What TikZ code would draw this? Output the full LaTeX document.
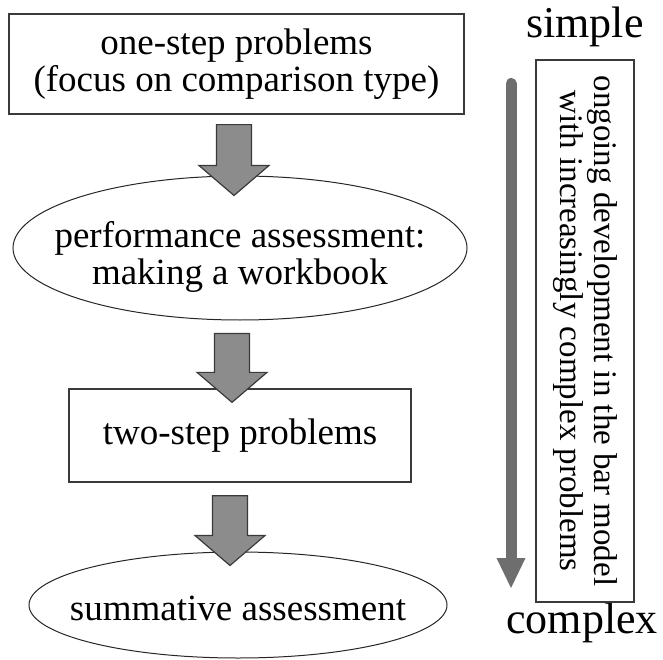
\documentclass[tikz,border=0pt]{standalone}
\usepackage{fontspec}
\setmainfont{Liberation Serif}
\usetikzlibrary{shapes.geometric,calc}
\definecolor{edgegray}{HTML}{3A3A3A}
\definecolor{blockfill}{HTML}{8C8C8C}
\definecolor{flowgray}{HTML}{6E6E6E}
\tikzset{
  stagebox/.style={draw=edgegray, line width=1.3pt, rectangle, inner sep=0pt,
    font=\fontsize{37}{37}\selectfont, align=center},
  stageoval/.style={draw=black!85, line width=1pt, ellipse, inner sep=0pt},
  maintext/.style={font=\fontsize{37}{37}\selectfont, align=center, inner sep=0pt},
  sidebox/.style={draw=edgegray, line width=1.3pt, rectangle, inner sep=0pt},
  sidetext/.style={font=\fontsize{33}{34}\selectfont, align=center, inner sep=0pt, rotate=-90},
  endtext/.style={font=\fontsize{44}{44}\selectfont, inner sep=0pt, anchor=base},
  blockarrow/.style={draw=edgegray, fill=blockfill, line width=1.2pt, line join=miter},
}
% thick grey block arrow from the top point #1 down to the tip #2
\newcommand\downblock[2]{%
  \path[blockarrow] let \p1=(#1), \p2=(#2) in
    (\x1-17.5pt,\y1) -- (\x1+17.5pt,\y1) -- (\x1+17.5pt,\y2+30pt) --
    (\x1+35pt,\y2+30pt) -- (\x1,\y2) -- (\x1-35pt,\y2+30pt) --
    (\x1-17.5pt,\y2+30pt) -- cycle;}
\begin{document}
\begin{tikzpicture}[x=1pt,y=-1pt]
  \useasboundingbox (0,0) rectangle (663,660);

  % sequence of stages
  \node[stagebox, minimum width=455pt, minimum height=100pt] (b1) at (236.5,64)
    {one-step problems\\(focus on comparison type)};
  \node[stageoval, minimum width=454pt, minimum height=144pt] (e1) at (240,248) {};
  \node[maintext] (e1text) at (240,257) {performance assessment:\\making a workbook};
  \node[stagebox, minimum width=342pt, minimum height=93pt] (b2) at (240,435.5)
    {two-step problems};
  \node[stageoval, minimum width=418pt, minimum height=106pt] (e2) at (238,605) {};
  \node[maintext] (e2text) at (238,608) {summative assessment};

  % block arrows between the stages
  \coordinate (a1s) at ($(b1.south)+(-2.5,10)$);
  \coordinate (a1e) at ($(e1.north)+(-6,20)$);
  \coordinate (a2s) at ($(e1.south)+(-8,13)$);
  \coordinate (a2e) at ($(b2.north)+(-8,14)$);
  \coordinate (a3s) at ($(b2.south)+(-10,13)$);
  \coordinate (a3e) at ($(e2.north)+(-8,14)$);
  \downblock{a1s}{a1e}
  \downblock{a2s}{a2e}
  \downblock{a3s}{a3e}

  % side column: simple -> complex
  \node[endtext] (simple) at (585,38) {simple};
  \node[endtext] (complex) at (582,633) {complex};
  \node[sidebox, minimum width=98pt, minimum height=542pt] (side) at (585,331) {};
  \node[sidetext] (sidetxt) at (side.center)
    {ongoing development in the bar model\\with increasingly complex problems};

  \coordinate (gtop) at (511,83.5);
  \coordinate (gbase) at (511,558);
  \coordinate (gtip) at (511,588);
  \draw[flowgray, line width=11pt, line cap=round] (gtop) -- ($(gbase)+(0,1)$);
  \fill[flowgray] ($(gbase)+(-14.5,0)$) -- ($(gbase)+(14.5,0)$) -- (gtip) -- cycle;
\end{tikzpicture}
\end{document}
